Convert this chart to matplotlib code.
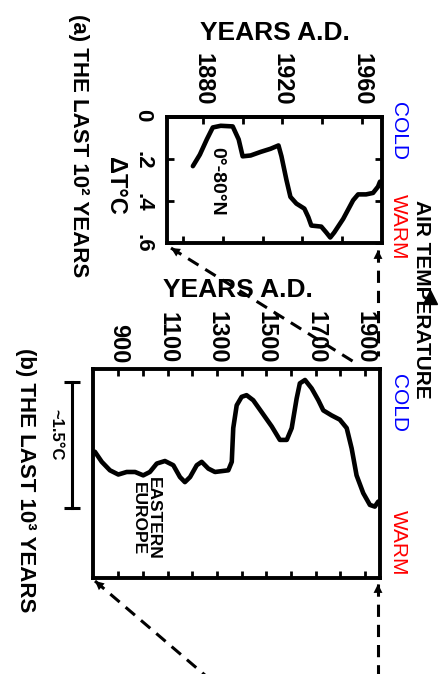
import numpy as np
import matplotlib
matplotlib.use("Agg")
import matplotlib.pyplot as plt
from matplotlib.lines import Line2D
from matplotlib.patches import FancyArrowPatch

# (a) the last 100 years, 0-80N mean air temperature departure
years_a = [1875, 1878.5, 1882, 1885, 1889, 1895, 1898, 1900, 1904, 1909, 1914, 1918,
           1919.5, 1922, 1924, 1927, 1931, 1933, 1934.5, 1939.5, 1942, 1944, 1946,
           1950.5, 1955.5, 1958, 1962, 1965.5, 1968, 1969]
dt_a = [0.235, 0.180, 0.107, 0.050, 0.042, 0.045, 0.107, 0.188, 0.184, 0.167, 0.152, 0.136,
        0.188, 0.301, 0.382, 0.414, 0.438, 0.479, 0.519, 0.524, 0.552, 0.576, 0.552,
        0.487, 0.398, 0.370, 0.370, 0.363, 0.333, 0.309]

# (b) the last 1000 years, eastern Europe
years_b = [805, 833, 866, 900, 934, 968, 1001, 1028, 1056, 1089, 1123, 1150, 1170, 1191,
           1218, 1238, 1265, 1292, 1319, 1346, 1360, 1366, 1380, 1400, 1420, 1447, 1481,
           1522, 1555, 1583, 1603, 1623, 1636, 1657, 1684, 1711, 1731, 1765, 1798, 1826,
           1846, 1866, 1893, 1920, 1940, 1954]
dt_b = [0.98, 1.10, 1.20, 1.25, 1.22, 1.22, 1.26, 1.22, 1.12, 1.09, 1.14, 1.28, 1.34, 1.28,
        1.14, 1.10, 1.18, 1.22, 1.21, 1.20, 1.10, 0.70, 0.43, 0.33, 0.31, 0.37, 0.51,
        0.68, 0.84, 0.84, 0.70, 0.35, 0.17, 0.13, 0.23, 0.37, 0.49, 0.55, 0.60, 0.70,
        0.94, 1.26, 1.47, 1.61, 1.63, 1.57]

ticks_a_top = [1880, 1900, 1920, 1940, 1960]
labels_a_top = ['1880', '', '1920', '', '1960']
ticks_a_bottom = [1870, 1890, 1910, 1930, 1950]
dt_ticks_a = [0, 0.2, 0.4, 0.6]
dt_labels_a = ['0', '.2', '.4', '.6']
ticks_b = list(range(900, 2000, 100))
labels_b = ['900', '', '1100', '', '1300', '', '1500', '', '1700', '', '1900']
scale_b = 1.5

plt.rcParams['font.family'] = ['Liberation Sans', 'DejaVu Sans']
plt.rcParams['font.weight'] = 'bold'

W, H = 445, 674
fig = plt.figure(figsize=(W / 100, H / 100), dpi=100)


def P(x, y):
    return (x / W, 1 - y / H)


def box(x0, y0, x1, y1):
    return [x0 / W, 1 - y1 / H, (x1 - x0) / W, (y1 - y0) / H]


# ---- panel (a)
ax_a = fig.add_axes(box(167, 117, 382, 242.5))
ax_a.plot(years_a, dt_a, color='black', lw=3.3, solid_joinstyle='round',
          solid_capstyle='round')
ax_a.set_xlim(1862, 1970)
ax_a.set_ylim(0.6, 0)
ax_a.set_xticks(ticks_a_bottom)
ax_a.tick_params(axis='x', bottom=True, top=False, direction='in', length=5,
                 width=2, labelbottom=False)
ax_a.set_yticks(dt_ticks_a, dt_labels_a)
ax_a.tick_params(axis='y', left=True, right=True, direction='in', length=5,
                 width=2, pad=10, labelsize=16, labelrotation=-90)
sec_a = ax_a.secondary_xaxis('top')
sec_a.set_xticks(ticks_a_top, labels_a_top)
sec_a.tick_params(direction='in', length=5, width=2, pad=8, labelsize=17)
for lab in sec_a.get_xticklabels():
    lab.set_rotation(-90)
    lab.set_va('bottom')
sec_a.spines['top'].set_linewidth(2.8)
for s in ax_a.spines.values():
    s.set_linewidth(2.8)
ax_a.text(1887, 0.31, '0°-80°N', rotation=-90, fontsize=14, ha='center',
          va='center')

# ---- panel (b)
ax_b = fig.add_axes(box(93.3, 369, 380, 577.5))
ax_b.plot(years_b, dt_b, color='black', lw=3.3, solid_joinstyle='round',
          solid_capstyle='round')
ax_b.set_xlim(798.6, 1961)
ax_b.set_ylim(2.47, 0)
ax_b.set_yticks([])
ax_b.set_xticks(ticks_b, labels_b)
ax_b.tick_params(axis='x', top=True, bottom=True, direction='in', length=5,
                 width=2, labeltop=True, labelbottom=False, pad=4,
                 labelsize=17)
for lab in ax_b.get_xticklabels():
    lab.set_rotation(-90)
    lab.set_va('bottom')
for s in ax_b.spines.values():
    s.set_linewidth(2.8)
ax_b.text(1012, 1.77, 'EASTERN\nEUROPE', rotation=-90, fontsize=12.5,
          ha='center', va='center', linespacing=1.05)

# 1.5 degree scale bar beside panel (b)
ax_b.plot([712, 712], [0.15, 0.15 + scale_b], color='black', lw=2.2,
          clip_on=False, marker='_', markersize=11, mew=2.2)
ax_b.text(645, 0.15 + scale_b / 2 - 0.12, '~1.5°C', rotation=-90, fontsize=12,
          ha='center', va='center', clip_on=False)

# ---- titles and labels
fig.text(*P(275, 33), 'YEARS A.D.', fontsize=19, ha='center', va='center')
fig.text(*P(238, 290), 'YEARS A.D.', fontsize=19, ha='center', va='center')
fig.text(*P(78, 146), '(a) THE LAST 10² YEARS', rotation=-90,
         fontsize=16, ha='center', va='center')
fig.text(*P(25, 480), '(b) THE LAST 10³ YEARS', rotation=-90,
         fontsize=16, ha='center', va='center')
fig.text(*P(115, 186), 'ΔT°C', rotation=-90, fontsize=17, ha='center',
         va='center')
fig.text(*P(422, 299), 'AIR TEMPERATURE', rotation=-90, fontsize=15,
         ha='center', va='center', fontweight='heavy')
fig.add_artist(Line2D([430 / W], [1 - 297 / H], marker='^', markersize=10,
                      color='black', transform=fig.transFigure))

for yc, yw in [(131, 227), (403, 543)]:
    fig.text(*P(398, yc), 'COLD', rotation=-90, fontsize=15, color='blue',
             fontweight='normal', ha='center', va='center')
    fig.text(*P(398, yw), 'WARM', rotation=-90, fontsize=15, color='red',
             fontweight='normal', ha='center', va='center')


# ---- dashed zoom arrows
def dashed_arrow(tip, tail):
    tx, ty = P(*tip)
    sx, sy = P(*tail)
    fig.add_artist(Line2D([tx, sx], [ty, sy], color='black', lw=2.2,
                          linestyle=(0, (4, 2.6)), transform=fig.transFigure))
    d = np.array([sx - tx, sy - ty]) * [W, H]
    d = d / np.hypot(*d) * 14
    base = P(tip[0] + d[0], tip[1] - d[1])
    fig.add_artist(FancyArrowPatch(
        base, (tx, ty), transform=fig.transFigure, arrowstyle='-|>',
        mutation_scale=16, color='black', lw=0, shrinkA=0, shrinkB=0))


dashed_arrow((171, 248), (354, 362))
dashed_arrow((378, 250), (378, 356))
dashed_arrow((95, 581), (206, 676))
dashed_arrow((378, 584), (378, 676))

fig.savefig('out.png', dpi=100, facecolor='white')
